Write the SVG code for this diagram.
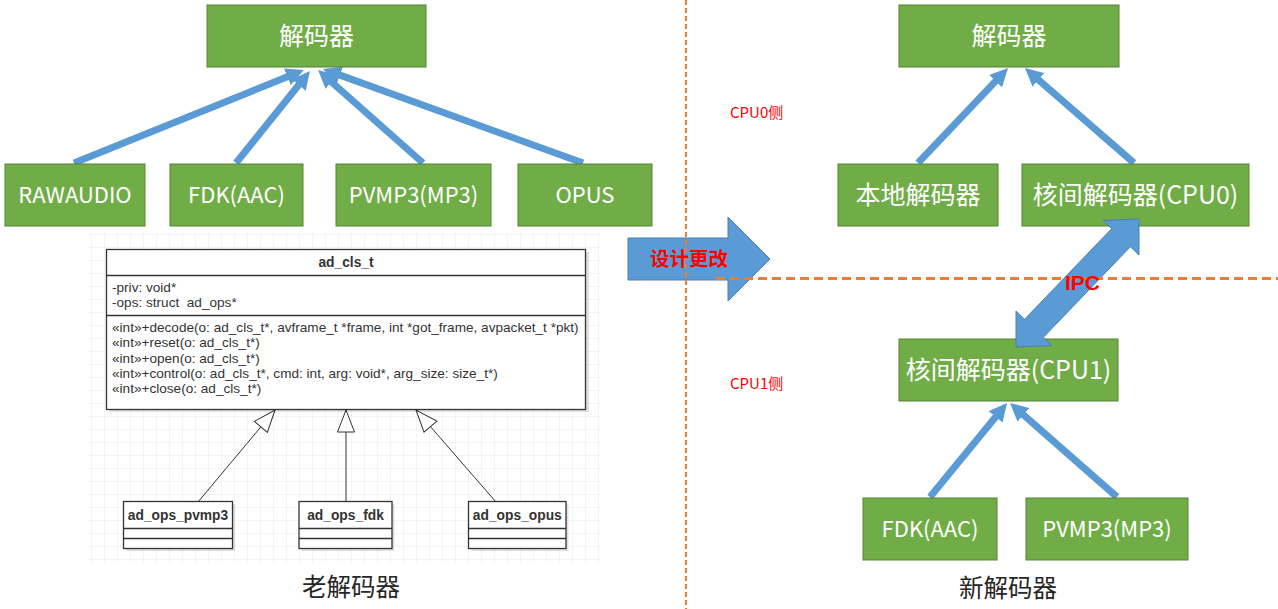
<svg xmlns="http://www.w3.org/2000/svg" width="1278" height="609" viewBox="0 0 1278 609">
<style>
.gbox{fill:#70ad47;stroke:#548235;stroke-width:1}
.gtxt{font-family:"Noto Sans CJK SC","Noto Sans",sans-serif;font-size:22px;fill:#ffffff;text-anchor:middle}
.cjk{font-size:25px}
.blue{stroke:#5b9bd5;stroke-width:7;fill:none;marker-end:url(#bh)}
.uml{fill:#ffffff;stroke:#333333;stroke-width:1.3}
.umlt{font-family:"Liberation Sans",Arial,sans-serif;font-size:13.6px;fill:#333333}
.umlb{font-family:"Liberation Sans",Arial,sans-serif;font-size:13.8px;font-weight:bold;fill:#333333;text-anchor:middle}
.inh{stroke:#333333;stroke-width:1;fill:none;marker-end:url(#tri)}
.dash{stroke:#ed7d31;fill:none}
.red{font-family:"Noto Sans CJK SC","Noto Sans",sans-serif;fill:#ff0000}
.cap{font-family:"Noto Sans CJK SC",sans-serif;font-size:24.5px;fill:#262626;text-anchor:middle}
.shadow{fill:#000000;opacity:0.12}
</style>
<defs>
<marker id="bh" markerUnits="userSpaceOnUse" viewBox="0 0 18 18" markerWidth="18" markerHeight="18" refX="8" refY="9" orient="auto">
<path d="M0,0 L18,9 L0,18 z" fill="#5b9bd5"/>
</marker>
<marker id="tri" markerUnits="userSpaceOnUse" viewBox="0 0 24 19" markerWidth="24" markerHeight="19" refX="23" refY="9.5" orient="auto">
<path d="M1,1 L23,9.5 L1,18 z" fill="#ffffff" stroke="#333333" stroke-width="1"/>
</marker>
<pattern id="grid" width="13" height="13" patternUnits="userSpaceOnUse">
<path d="M13,0 L0,0 L0,13" fill="none" stroke="#e4e4e4" stroke-width="1"/>
</pattern>
</defs>
<rect width="1278" height="609" fill="#ffffff"/>
<rect x="88" y="233" width="512" height="330" fill="url(#grid)" opacity="0.8"/>

<g id="connectors">
<path class="blue" d="M74,163 L294.7,73.8"/>
<path class="blue" d="M236,163 L303.7,78.8"/>
<path class="blue" d="M423,163 L325.5,76.6"/>
<path class="blue" d="M583,163 L332.4,72.4"/>
<path class="blue" d="M918,163 L1001.1,75.3"/>
<path class="blue" d="M1134,163 L1032.5,74.6"/>
<path class="blue" d="M930,497 L1000.7,410.7"/>
<path class="blue" d="M1117,497 L1017.5,409.6"/>
<path class="inh" d="M198,502 L275,410"/>
<path class="inh" d="M346,502 L346,410"/>
<path class="inh" d="M496,502 L416,410"/>
</g>

<g id="old-decoder"><rect class="gbox" x="207" y="5" width="219" height="62"/><text class="gtxt cjk" x="316.5" y="45">解码器</text></g>
<g id="rawaudio"><rect class="gbox" x="5" y="164" width="140" height="62"/><text class="gtxt" x="75" y="203">RAWAUDIO</text></g>
<g id="fdk-old"><rect class="gbox" x="170" y="164" width="133" height="62"/><text class="gtxt" x="236.5" y="203">FDK(AAC)</text></g>
<g id="pvmp3-old"><rect class="gbox" x="336" y="164" width="155" height="62"/><text class="gtxt" x="413.5" y="203">PVMP3(MP3)</text></g>
<g id="opus"><rect class="gbox" x="518" y="164" width="134" height="62"/><text class="gtxt" x="585" y="203">OPUS</text></g>

<g id="ad_cls_t">
<rect class="shadow" x="109" y="252" width="480" height="160"/>
<rect class="uml" x="106.5" y="249.5" width="479" height="160"/>
<line x1="106.5" y1="275.5" x2="585.5" y2="275.5" stroke="#333333" stroke-width="1.3"/>
<line x1="106.5" y1="315.5" x2="585.5" y2="315.5" stroke="#333333" stroke-width="1.3"/>
<text class="umlb" x="346" y="267" font-size="13.2">ad_cls_t</text>
<text class="umlt" x="112" y="292">-priv: void*</text>
<text class="umlt" x="112" y="307" xml:space="preserve">-ops: struct  ad_ops*</text>
<text class="umlt" x="112" y="332">«int»+decode(o: ad_cls_t*, avframe_t *frame, int *got_frame, avpacket_t *pkt)</text>
<text class="umlt" x="112" y="347.3">«int»+reset(o: ad_cls_t*)</text>
<text class="umlt" x="112" y="362.7">«int»+open(o: ad_cls_t*)</text>
<text class="umlt" x="112" y="378">«int»+control(o: ad_cls_t*, cmd: int, arg: void*, arg_size: size_t*)</text>
<text class="umlt" x="112" y="393.3">«int»+close(o: ad_cls_t*)</text>
</g>
<g id="ad_ops_pvmp3">
<rect class="shadow" x="126" y="504" width="109" height="47"/>
<rect class="uml" x="123.5" y="501.5" width="109" height="47"/>
<line x1="123.5" y1="528.5" x2="232.5" y2="528.5" stroke="#333333" stroke-width="1.3"/>
<line x1="123.5" y1="538.5" x2="232.5" y2="538.5" stroke="#333333" stroke-width="1.3"/>
<text class="umlb" x="178" y="520">ad_ops_pvmp3</text>
</g>
<g id="ad_ops_fdk">
<rect class="shadow" x="301.5" y="504" width="93" height="47"/>
<rect class="uml" x="299" y="501.5" width="93" height="47"/>
<line x1="299" y1="528.5" x2="392" y2="528.5" stroke="#333333" stroke-width="1.3"/>
<line x1="299" y1="538.5" x2="392" y2="538.5" stroke="#333333" stroke-width="1.3"/>
<text class="umlb" x="345.5" y="520">ad_ops_fdk</text>
</g>
<g id="ad_ops_opus">
<rect class="shadow" x="471" y="504" width="97.5" height="47"/>
<rect class="uml" x="468.5" y="501.5" width="97.5" height="47"/>
<line x1="468.5" y1="528.5" x2="566" y2="528.5" stroke="#333333" stroke-width="1.3"/>
<line x1="468.5" y1="538.5" x2="566" y2="538.5" stroke="#333333" stroke-width="1.3"/>
<text class="umlb" x="517.3" y="520">ad_ops_opus</text>
</g>
<text class="cap" x="351" y="596">老解码器</text>

<g id="new-decoder"><rect class="gbox" x="899" y="5" width="220" height="62"/><text class="gtxt cjk" x="1009" y="45">解码器</text></g>
<g id="local-decoder"><rect class="gbox" x="838" y="164" width="160" height="62"/><text class="gtxt cjk" x="918" y="204">本地解码器</text></g>
<g id="ipc-cpu0"><rect class="gbox" x="1022" y="164" width="227" height="62"/><text class="gtxt cjk" x="1135.5" y="204">核间解码器(CPU0)</text></g>
<g id="ipc-cpu1"><rect class="gbox" x="899" y="339" width="219" height="62"/><text class="gtxt cjk" x="1008.5" y="379">核间解码器(CPU1)</text></g>
<g id="fdk-new"><rect class="gbox" x="863" y="498" width="134" height="62"/><text class="gtxt" x="930" y="537">FDK(AAC)</text></g>
<g id="pvmp3-new"><rect class="gbox" x="1026" y="498" width="162" height="62"/><text class="gtxt" x="1107" y="537">PVMP3(MP3)</text></g>
<text class="cap" x="1008" y="597">新解码器</text>

<g id="design-change">
<polygon points="628,238 728,238 728,217 770,259 728,301 728,280 628,280" fill="#5b9bd5" stroke="#4a7fb5" stroke-width="1"/>
</g>
<g id="ipc-arrow">
<polygon points="1139,219 1139,255 1130.4,246.7 1043.4,337.3 1052,345.6 1016,347 1016,311 1024.6,319.3 1111.6,228.7 1103,220.4" fill="#5b9bd5" stroke="#4a7fb5" stroke-width="1"/>
</g>

<g id="dividers">
<line class="dash" x1="686" y1="0" x2="686" y2="609" stroke-width="2" stroke-dasharray="5 3"/>
<line class="dash" x1="716" y1="278.5" x2="1278" y2="278.5" stroke-width="3" stroke-dasharray="9 5"/>
</g>

<text class="red" x="650" y="266" font-size="19.5" font-weight="bold">设计更改</text>
<text class="red" x="730" y="118" font-size="15">CPU0侧</text>
<text class="red" x="730" y="389" font-size="15">CPU1侧</text>
<text x="1065" y="290" font-family="Liberation Sans,Arial,sans-serif" font-size="21" font-weight="bold" fill="#ff0000">IPC</text>
</svg>
